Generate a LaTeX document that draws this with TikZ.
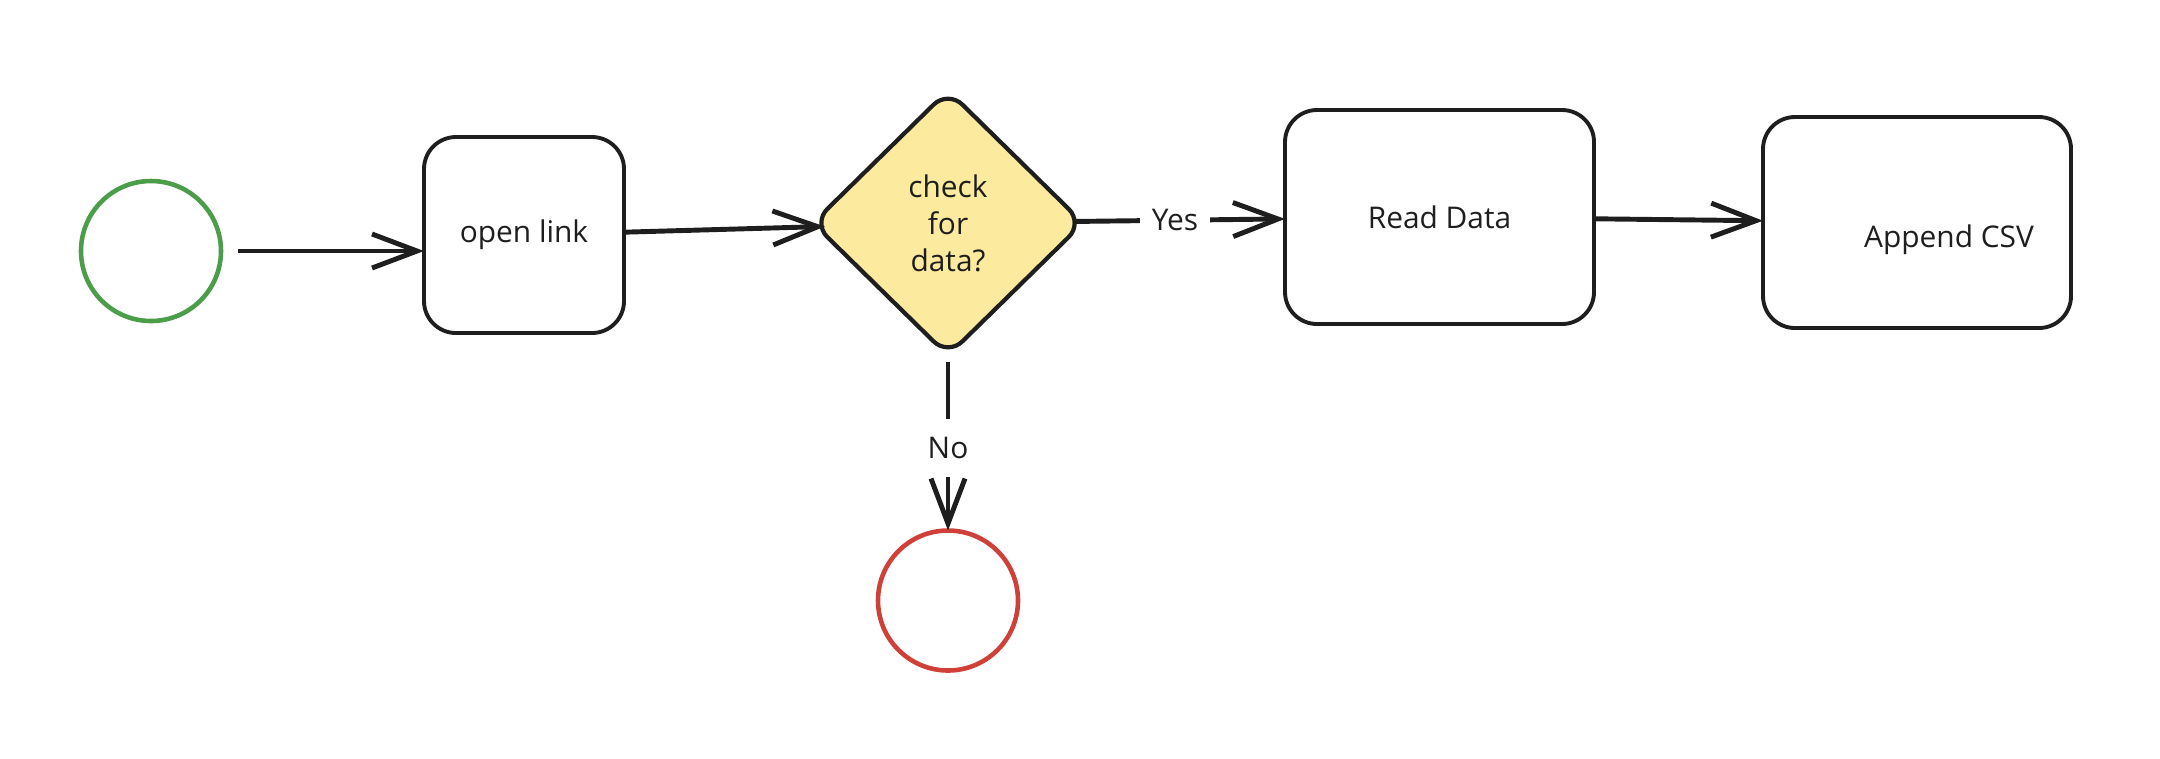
\documentclass[tikz,border=0pt]{standalone}
\usepackage{fontspec}
\setmainfont{Open Sans}
\usetikzlibrary{arrows.meta,shapes.geometric,positioning}
\definecolor{ink}{HTML}{1E1E1E}
\definecolor{startgreen}{HTML}{4C9D4A}
\definecolor{stopred}{HTML}{CF4138}
\definecolor{decisionyellow}{HTML}{FCEA9E}

\begin{document}
\begin{tikzpicture}[
  >={Straight Barb[length=4.5mm,width=3.4mm]},
  every node/.style={font=\fontsize{8.5}{10.5}\selectfont,text=ink,outer sep=0pt},
  event/.style={circle,line width=1.3pt,minimum size=1.4cm,inner sep=0pt},
  task/.style={draw=ink,rounded corners=3.2mm,line width=1.1pt,inner sep=2pt},
  decision/.style={diamond,draw=ink,fill=decisionyellow,rounded corners=2mm,line width=1.2pt,inner sep=0pt,align=center},
  flow/.style={draw=ink,line width=1.4pt,->},
  answer/.style={fill=white,inner xsep=1.2mm,inner ysep=1.8mm},
  node distance=2cm,
  ]
  \useasboundingbox (0,0) rectangle (21.6,-7.58);
  \node[event, draw=startgreen] (start) at (1.51,-2.51) {};
  \node[task, minimum width=2cm, minimum height=1.96cm, right=2.03cm of start, yshift=1.6mm] (link) {open link};
  \node[decision, minimum width=2.7cm, minimum height=2.65cm, right=1.89cm of link, yshift=1.2mm] (check) {check\\for\\data?};
  \node[task, minimum width=3.09cm, minimum height=2.14cm, right=2.02cm of check, yshift=0.6mm] (read) {Read Data};
  \node[task, minimum width=3.08cm, minimum height=2.11cm, right=1.69cm of read, yshift=-0.55mm, text height=5.5mm, text depth=0.5mm] (append) {\hspace*{6.4mm}Append CSV};
  \node[event, draw=stopred, below=1.75cm of check] (stop) {};

  \draw [flow, shorten <=1.7mm] (start.east) -- (start.east -| link.west);
  \draw [flow, shorten >=-0.8mm] (link) -- (check);
  \draw [flow, shorten <=-0.8mm] (check) -- node[answer, pos=0.46] {Yes} (read);
  \draw [flow] (read) -- (append);
  \draw [flow, shorten <=0.6mm] (check) -- node[answer, pos=0.53] {No} (stop);
\end{tikzpicture}
\end{document}
